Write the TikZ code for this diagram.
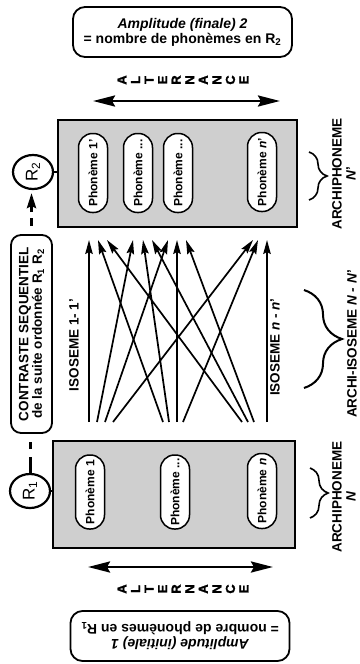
\documentclass[tikz,border=0pt]{standalone}
\usepackage{fontspec}
\setmainfont{Liberation Sans}
\newfontfamily\heavyfont[FakeBold=1.5]{Liberation Sans Bold}
\usetikzlibrary{arrows.meta,shapes.geometric,decorations.pathreplacing}
\begin{document}
\begin{tikzpicture}[x=1pt,y=-1pt,
  every node/.style={inner sep=0pt, outer sep=0pt},
  infobox/.style={draw, line width=1.8pt, rounded corners=12pt, fill=white, align=center,
    minimum width=219pt, minimum height=50pt, font=\fontsize{14}{15}\selectfont\bfseries},
  altletter/.style={rotate=90, font=\fontsize{13}{13}\selectfont\heavyfont},
  dblarrow/.style={line width=2.8pt, {Stealth[length=22pt,width=11pt,inset=3pt]}-{Stealth[length=22pt,width=11pt,inset=3pt]}},
  greybox/.style={draw, line width=2.8pt, fill=black!19},
  pill/.style={draw, line width=1.5pt, fill=white, rounded corners=14pt, rotate=90,
    minimum height=29pt, font=\fontsize{12}{12}\selectfont\bfseries},
  rnode/.style={draw, ellipse, line width=2.2pt, fill=white, rotate=90, minimum width=34pt,
    minimum height=40pt, font=\fontsize{17}{17}\selectfont},
  link/.style={line width=2pt},
  midarrow/.style={line width=1.7pt, -{Stealth[length=14pt,width=7.5pt,inset=2pt]}},
  label/.style={rotate=90, font=\fontsize{13.5}{14}\selectfont\bfseries, align=center},
  bigbrace/.style={decorate, decoration={brace, amplitude=#1}, line width=2pt},
]
\useasboundingbox (0,0) rectangle (359,664);

% top box
\node[infobox] (amp2) at (182.5,32) {\itshape Amplitude (finale) 2\\= nombre de phonèmes en R\textsubscript{2}};
% bottom box (upside down)
\node[infobox, rotate=180] (amp1) at (180,636) {\itshape Amplitude (initiale) 1\\= nombre de phonèmes en R\textsubscript{1}};

% ALTERNANCE top and bottom
\foreach \l [count=\i] in {A,L,T,E,R,N,A,N,C,E} {
  \node[altletter] (altT\i) at ({122+(\i-1)*13.55},80) {\l};
  \node[altletter] (altB\i) at ({122+(\i-1)*13.55},589) {\l};
}
\coordinate (arTL) at (93,101);
\coordinate (arTR) at (280,101);
\coordinate (arBL) at (88,567);
\coordinate (arBR) at (273,567);
\draw[dblarrow] (arTL) -- (arTR);
\draw[dblarrow] (arBL) -- (arBR);

% grey boxes
\node[greybox, minimum width=239pt, minimum height=107pt] (boxT) at (177.5,173.5) {};
\node[greybox, minimum width=242pt, minimum height=107pt] (boxB) at (174,494.5) {};

% phonemes top
\node[pill, minimum width=79pt] (pT1) at (93,173) {Phonème 1'};
\node[pill, minimum width=79pt] (pT2) at (138,173) {Phonème ...};
\node[pill, minimum width=79pt] (pT3) at (178,173) {Phonème ...};
\node[pill, minimum width=79pt] (pT4) at (262,172) {Phonème \textit{n}'};
% phonemes bottom
\node[pill, minimum width=74pt] (pB1) at (90,492) {Phonème 1};
\node[pill, minimum width=74pt] (pB2) at (175,492) {Phonème ...};
\node[pill, minimum width=75pt] (pB3) at (262,491) {Phonème \textit{n}};

% R nodes
\node[rnode] (R2) at (33,172) {R\textsubscript{2}};
\node[rnode] (R1) at (30,491) {R\textsubscript{1}};
\draw[link] (R2.south) -- (R2.south -| boxT.west);
\draw[link] (R1.south) -- (R1.south -| boxB.west);

% contraste
\node[draw, line width=1.8pt, fill=white, rounded corners=10pt, rotate=90, align=center,
  minimum width=198pt, minimum height=41pt, font=\fontsize{13.5}{13.5}\selectfont\bfseries]
  (contr) at (31.5,334) {CONTRASTE SEQUENTIEL\\de la suite ordonnée R\textsubscript{1} R\textsubscript{2}};
\draw[line width=3pt, dash pattern=on 0pt off 9pt on 8pt off 6pt on 40pt,
  -{Stealth[length=15pt,width=9pt,inset=2pt]}, shorten >=4pt] (contr.east) -- (contr.east |- R2.west);
\draw[line width=3pt, dash pattern=on 17pt off 8pt on 7pt off 30pt] (R1.east) -- (R1.east |- contr.west);

% middle arrows
\foreach \i/\bx/\tx in {1/89/89, 2/97/133, 3/105/168, 4/113/253, 5/163/98, 6/169/143, 7/177/177,
  8/183/258, 9/242/107, 10/248/152, 11/254/186, 12/267/267} {
  \coordinate (b\i) at (\bx,422);
  \coordinate (t\i) at (\tx,240);
  \draw[midarrow] (b\i) -- (t\i);
}

% labels
\node[label] (iso1) at (74,345) {ISOSEME 1- 1'};
\node[label] (ison) at (275,347) {ISOSEME \textit{n} - \textit{n}'};
\node[label] (archiT) at (344,174) {ARCHIPHONEME\\\textit{N}'};
\node[label] (archiB) at (344,497) {ARCHIPHONEME\\\textit{N}};
\node[label] (archiI) at (352,344) {ARCHI-ISOSEME \textit{N - N}'};

% braces
\coordinate (brI1) at (304,290);
\coordinate (brI2) at (304,388);
\coordinate (brT1) at (309,152);
\coordinate (brT2) at (309,200);
\coordinate (brB1) at (310,468);
\coordinate (brB2) at (310,518);
\draw[bigbrace=38pt] (brI1) -- (brI2);
\draw[bigbrace=18pt, line width=1.6pt] (brT1) -- (brT2);
\draw[bigbrace=18pt, line width=1.6pt] (brB1) -- (brB2);
\end{tikzpicture}
\end{document}
